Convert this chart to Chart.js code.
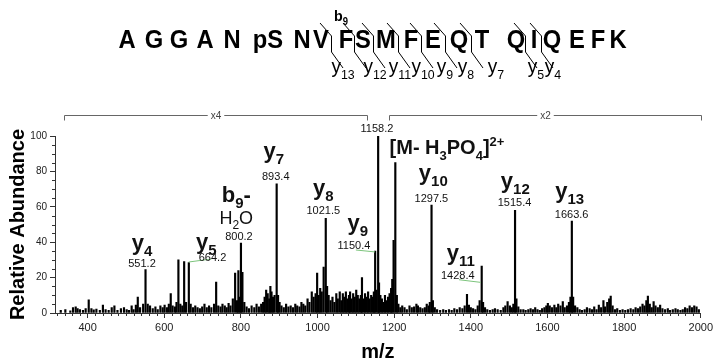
<!DOCTYPE html>
<html>
<head>
<meta charset="utf-8">
<script src="https://cdn.jsdelivr.net/npm/chart.js@4.4.0/dist/chart.umd.min.js"></script>
<style>
  html, body { margin: 0; padding: 0; background: #fff; }
</style>
</head>
<body>
<canvas id="spectrum" width="716" height="364"></canvas>
<script>
var FONT = '"Liberation Sans", Arial, sans-serif';

// peaks (m/z, relative abundance)
var peakMz = [
  330, 342, 355, 362, 369, 374, 380, 388, 395, 403,
  410, 416, 423, 432, 440, 447, 455, 463, 470, 478,
  487, 495, 502, 508, 515, 520, 526, 531, 537, 545,
  551.2, 557, 563, 570, 577, 583, 590, 596, 601, 607,
  612, 617, 622, 628, 632, 637, 642, 647, 652, 657,
  664.2, 669, 675, 681, 687, 693, 699, 705, 711, 717,
  723, 730, 735.5, 741, 747, 752, 758, 763, 768, 773,
  779, 785, 790, 793.5, 797, 800.2, 804, 809, 815, 821,
  828, 835, 841, 847, 853, 858, 862, 866, 870, 874,
  877, 880, 884, 888, 893.4, 897, 901, 906, 912, 918,
  924, 930, 936, 942, 947, 953, 958, 963, 968, 974,
  979, 985, 990, 995, 999, 1003, 1007, 1011, 1016, 1021.5,
  1025, 1029, 1034, 1039, 1044, 1049, 1053, 1058, 1062, 1066,
  1070, 1074, 1078, 1082, 1085, 1089, 1093, 1097, 1101, 1105,
  1109, 1113, 1116, 1120, 1124, 1128, 1132, 1136, 1140, 1144,
  1147, 1150.4, 1154, 1158.2, 1160.5, 1164, 1168, 1172, 1176, 1180,
  1184, 1188, 1192, 1195, 1198.5, 1203, 1207, 1211, 1216, 1221,
  1227, 1233, 1240, 1246, 1252, 1258, 1262, 1268, 1274, 1280,
  1285, 1290, 1293, 1297.5, 1301, 1306, 1312, 1320, 1328, 1335,
  1343, 1350, 1357, 1364, 1371, 1378, 1384, 1390, 1395, 1400,
  1406, 1412, 1418, 1423, 1428.4, 1432, 1437, 1443, 1450, 1457,
  1463, 1470, 1478, 1485, 1490, 1496, 1502, 1507, 1511, 1515.4,
  1519, 1524, 1530, 1537, 1543, 1550, 1556, 1562, 1568, 1574,
  1580, 1586, 1592, 1597, 1601, 1606, 1612, 1618, 1623, 1628,
  1634, 1640, 1645, 1651, 1656, 1660, 1663.6, 1667, 1672, 1678,
  1684, 1690, 1697, 1703, 1710, 1716, 1722, 1728, 1734, 1740,
  1746, 1750, 1756, 1761, 1765, 1770, 1776, 1782, 1789, 1796,
  1803, 1810, 1817, 1824, 1830, 1836, 1842, 1848, 1853, 1858,
  1862, 1867, 1872, 1877, 1882, 1888, 1894, 1900, 1907, 1914,
  1920, 1927, 1934, 1940, 1947, 1953, 1959, 1965, 1971, 1977,
  1983, 1989, 1995
];
var peakAbundance = [
  1.5, 2, 1.2, 3, 3.5, 2.5, 2, 1.5, 2.5, 7.5,
  2.5, 1.8, 2.2, 1.5, 4.5, 2, 1.5, 3, 4, 1.5,
  2.5, 3, 2, 1.5, 4, 2, 4.5, 9, 3, 5,
  24.5, 5, 4, 2.5, 3.5, 2, 4, 3, 4.5, 3,
  5, 11, 4, 3.5, 6, 30, 5, 4, 29, 6,
  28.5, 5, 3, 4, 3, 2.5, 3.5, 5, 3, 4,
  3, 5, 17.5, 4, 3.5, 5, 4, 3, 5.5, 4,
  8, 22.5, 7, 24, 9, 39.5, 23, 6, 3.5, 2.5,
  4, 3, 5, 3.5, 5, 6, 9, 13, 11, 8,
  15, 12, 9, 10, 73, 10, 6, 4, 3, 5,
  3.5, 4, 3, 5, 4, 3.5, 6, 5, 4, 8,
  6, 12, 9, 11, 22.5, 10, 14, 12, 26, 53.5,
  15, 10, 7, 9, 6, 11, 8, 12, 7, 11,
  9, 12, 8, 10, 12, 8, 11, 9, 13, 10,
  8, 10, 20, 8, 11, 9, 12, 8, 10, 9,
  12, 35, 13, 100, 17, 10, 8, 6, 10, 7,
  9, 11, 14, 19, 41, 85, 10, 5, 3, 4,
  3, 2, 4, 3, 3.5, 5, 4, 3, 2.5, 3,
  5, 4, 6, 61, 7, 3, 2, 1.5, 2, 1.5,
  2, 1.5, 2.5, 2, 3, 2.5, 4, 10.5, 4.5, 3,
  2.5, 2, 4, 7, 26.5, 6, 3, 2, 1.5, 2,
  2.5, 2, 1.5, 3, 4, 6.5, 4, 3, 5, 58,
  8, 3.5, 2, 2, 1.5, 2, 2.5, 2, 3, 2,
  1.5, 2.5, 3, 4, 5.5, 4, 3, 4.5, 3, 5,
  4, 6.5, 3, 4, 6, 9, 52, 9, 4, 3,
  2, 1.5, 2, 3, 2.5, 2, 3.5, 2, 4.5, 3,
  7, 3.5, 6, 8, 9.5, 4, 2, 2.5, 1.5, 2,
  1.5, 2, 2.5, 2, 3, 2.5, 3.5, 5, 4, 7,
  9.5, 5, 3, 6.5, 4, 3, 4.5, 2.5, 2, 2.5,
  1.5, 2, 2.5, 2, 1.5, 2, 3, 2.5, 4, 3,
  4, 3.5, 2
];

var xTickLabels = [400, 600, 800, 1000, 1200, 1400, 1600, 1800, 2000];
var yTickLabels = [0, 20, 40, 60, 80, 100];

// peak annotations
var ionLabels = ['y4', 'y5', 'b9-\nH2O', 'y7', 'y8', 'y9', '', '[M- H3PO4]2+', 'y10', 'y11', 'y12', 'y13'];
var mzLabels = ['551.2', '664.2', '800.2', '893.4', '1021.5', '1150.4', '1158.2', '', '1297.5', '1428.4', '1515.4', '1663.6'];

// zoom brackets over the spectrum
var zoomText = ['x4', 'x2'];
var zoomFrom = [338, 1186];
var zoomTo = [1129, 2000];

// peptide sequence and its fragment ions
var seqLetters = ['A', 'G', 'G', 'A', 'N', 'pS', 'N', 'V', 'F', 'S', 'M', 'F', 'E', 'Q', 'T', 'Q', 'I', 'Q', 'E', 'F', 'K'];
var yIons = ['y13', 'y12', 'y11', 'y10', 'y9', 'y8', 'y7', 'y5', 'y4'];
var bIons = ['b9'];

// where the annotation text sits (data units: m/z, abundance)
var labelPlace = [
  { ion: [542, 35.6], num: [542, 26] },
  { ion: [710, 36.2], num: [726, 29.4], lead: [[663.6, 28.8], [723, 30.5]] },
  { ion: [788, 62.7], num: [795, 41.2] },
  { ion: [886, 87.6], num: [891, 75] },
  { ion: [1015, 66.7], num: [1015, 56] },
  { ion: [1105, 46.9], num: [1095, 36.2], lead: [[1100, 35.6], [1150, 34.5]] },
  { num: [1155, 102.3] },
  { ion: [1188, 89.8], left: true },
  { ion: [1302, 75.1], num: [1297, 62.7] },
  { ion: [1374, 29.9], num: [1366, 19.2], lead: [[1369, 18.8], [1426, 17.3]] },
  { ion: [1516, 70.6], num: [1514, 60.5] },
  { ion: [1658, 65], num: [1663, 53.7] }
];
var seqX = [127, 154, 179, 205, 232, 268, 302, 321, 346, 363, 386, 411, 433, 459, 482, 516, 534, 552, 577, 598, 618];
var cutX = [331, 354, 373, 398, 421, 445, 471, 525, 541];
var yIonX = [343, 375, 400, 423, 445, 466, 496, 536, 553];

// split "H3PO4]2+" style text into normal / sub / superscript runs
function splitScripts(str) {
  var parts = [], prev = '', mode = 0;
  for (var i = 0; i < str.length; i++) {
    var c = str[i], m = 0;
    if (prev === ']' || (mode === 1 && /[0-9+\-]/.test(c))) m = 1;
    else if (/[0-9]/.test(c) && /[A-Za-z0-9]/.test(prev)) m = -1;
    if (parts.length && parts[parts.length - 1].shift === m) parts[parts.length - 1].text += c;
    else parts.push({ text: c, shift: m });
    prev = c; mode = m;
  }
  return parts;
}

function drawRich(ctx, str, x, y, size, weight, align) {
  var parts = splitScripts(str);
  var widths = parts.map(function (p) {
    ctx.font = weight + ' ' + (p.shift ? Math.round(size * 0.66) : size) + 'px ' + FONT;
    return ctx.measureText(p.text).width;
  });
  var total = widths.reduce(function (a, b) { return a + b; }, 0);
  var cx = align === 'left' ? x : x - total / 2;
  ctx.textAlign = 'left';
  ctx.textBaseline = 'alphabetic';
  parts.forEach(function (p, i) {
    ctx.font = weight + ' ' + (p.shift ? Math.round(size * 0.66) : size) + 'px ' + FONT;
    var dy = p.shift < 0 ? size * 0.28 : (p.shift > 0 ? -size * 0.42 : 0);
    ctx.fillText(p.text, cx, y + dy);
    cx += widths[i];
  });
}

function drawSquished(ctx, str, x, y, size, weight, sx) {
  ctx.save();
  ctx.translate(x, y);
  ctx.scale(sx, 1);
  drawRich(ctx, str, 0, 0, size, weight, 'center');
  ctx.restore();
}

var decorations = {
  id: 'decorations',
  afterDraw: function (chart) {
    var ctx = chart.ctx, xs = chart.scales.x, ys = chart.scales.y, area = chart.chartArea;
    ctx.save();

    // minor ticks
    ctx.strokeStyle = '#333';
    ctx.lineWidth = 1;
    ctx.beginPath();
    for (var v = 320; v <= 2000; v += 20) {
      if (v % 200 === 0) continue;
      var px = Math.round(xs.getPixelForValue(v)) + 0.5;
      ctx.moveTo(px, area.bottom);
      ctx.lineTo(px, area.bottom + 3);
    }
    for (var w = 5; w < 100; w += 5) {
      if (w % 20 === 0) continue;
      var py = Math.round(ys.getPixelForValue(w)) + 0.5;
      ctx.moveTo(area.left - 3, py);
      ctx.lineTo(area.left, py);
    }
    ctx.stroke();

    // zoom brackets
    var by = area.top - 20.5;
    ctx.strokeStyle = '#666';
    ctx.fillStyle = '#444';
    ctx.font = '10px ' + FONT;
    for (var b = 0; b < zoomText.length; b++) {
      var x0 = Math.round(xs.getPixelForValue(zoomFrom[b])) + 0.5;
      var x1 = Math.round(xs.getPixelForValue(zoomTo[b])) + 0.5;
      var mid = (x0 + x1) / 2, half = ctx.measureText(zoomText[b]).width / 2 + 3;
      ctx.beginPath();
      ctx.moveTo(x0, by + 5); ctx.lineTo(x0, by); ctx.lineTo(mid - half, by);
      ctx.moveTo(mid + half, by); ctx.lineTo(x1, by); ctx.lineTo(x1, by + 5);
      ctx.stroke();
      ctx.textAlign = 'center';
      ctx.textBaseline = 'middle';
      ctx.fillText(zoomText[b], mid, by + 1);
    }

    // green leader lines
    ctx.strokeStyle = '#7cc47c';
    labelPlace.forEach(function (p) {
      if (!p.lead) return;
      ctx.beginPath();
      ctx.moveTo(xs.getPixelForValue(p.lead[0][0]), ys.getPixelForValue(p.lead[0][1]));
      ctx.lineTo(xs.getPixelForValue(p.lead[1][0]), ys.getPixelForValue(p.lead[1][1]));
      ctx.stroke();
    });

    // peak labels
    ctx.fillStyle = '#111';
    labelPlace.forEach(function (p, i) {
      if (p.num && mzLabels[i]) {
        ctx.font = '11px ' + FONT;
        ctx.textAlign = 'center';
        ctx.textBaseline = 'alphabetic';
        ctx.fillText(mzLabels[i], xs.getPixelForValue(p.num[0]), ys.getPixelForValue(p.num[1]));
      }
      if (p.ion && ionLabels[i]) {
        var lines = ionLabels[i].split('\n');
        var ix = xs.getPixelForValue(p.ion[0]), iy = ys.getPixelForValue(p.ion[1]);
        lines.forEach(function (line, k) {
          var size = p.left ? 20 : (k ? 18 : 22);
          drawRich(ctx, line, ix, iy + k * 22, size, k ? 'normal' : 'bold', p.left ? 'left' : 'center');
        });
      }
    });

    // peptide sequence
    ctx.fillStyle = '#000';
    seqLetters.forEach(function (s, i) {
      drawSquished(ctx, s, seqX[i], 48, 25, 'bold', 0.95);
    });
    ctx.strokeStyle = '#000';
    ctx.lineWidth = 1;
    cutX.forEach(function (x) {
      ctx.beginPath();
      ctx.moveTo(x - 11, 23);
      ctx.lineTo(x + 0.5, 36);
      ctx.lineTo(x + 0.5, 52);
      ctx.lineTo(x + 12, 68);
      ctx.stroke();
    });
    yIons.forEach(function (s, i) {
      drawSquished(ctx, s, yIonX[i], 73, 20, 'normal', 0.95);
    });
    drawSquished(ctx, bIons[0], 341, 21, 15, 'bold', 0.95);

    ctx.restore();
  }
};

var config = {
  type: 'bar',
  data: {
    datasets: [{
      data: peakMz.map(function (m, i) { return { x: m, y: peakAbundance[i] }; }),
      backgroundColor: '#000',
      borderWidth: 0,
      barThickness: 1.5,
      grouped: false
    }]
  },
  options: {
    responsive: false,
    animation: false,
    layout: { padding: { top: 136, right: 9, bottom: 0, left: 0 }, autoPadding: false },
    plugins: { legend: { display: false }, tooltip: { enabled: false } },
    scales: {
      x: {
        type: 'linear',
        min: 315,
        max: 2000,
        offset: false,
        afterFit: function (s) { s.height = 51; },
        afterBuildTicks: function (s) { s.ticks = xTickLabels.map(function (v) { return { value: v }; }); },
        grid: { drawOnChartArea: false, offset: false, tickLength: 5, color: '#333' },
        border: { color: '#333' },
        ticks: {
          font: { family: FONT, size: 11 }, color: '#222', padding: 3, maxRotation: 0, autoSkip: false,
          callback: function (v) { return String(v); }
        },
        title: { display: true, text: 'm/z', color: '#000', font: { family: FONT, size: 20, weight: 'bold' }, padding: { top: 0, bottom: 0 } }
      },
      y: {
        min: 0,
        max: 100,
        afterFit: function (s) { s.width = 55; },
        afterBuildTicks: function (s) { s.ticks = yTickLabels.map(function (v) { return { value: v }; }); },
        grid: { drawOnChartArea: false, tickLength: 5, color: '#333' },
        border: { color: '#333' },
        ticks: { font: { family: FONT, size: 10 }, color: '#222', padding: 3 },
        title: { display: true, text: 'Relative Abundance', color: '#000', font: { family: FONT, size: 20, weight: 'bold' }, padding: { top: 6, bottom: 0 } }
      }
    }
  },
  plugins: [decorations]
};

window.onload = function () {
  var ctx = document.getElementById('spectrum').getContext('2d');
  window.spectrumChart = new Chart(ctx, config);
};
</script>
</body>
</html>
